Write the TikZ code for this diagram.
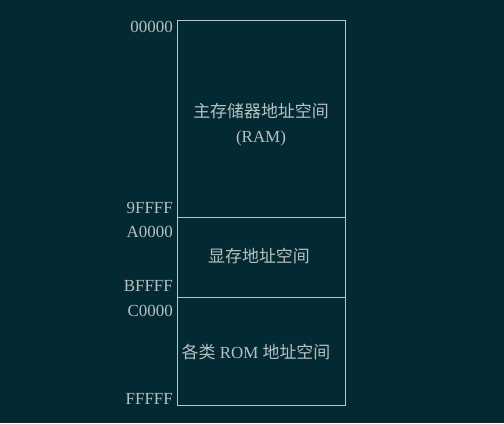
\documentclass[tikz,border=0pt]{standalone}
\usepackage{fontspec}
\setmainfont{Liberation Serif}
\newfontfamily\cjk{Noto Sans CJK SC}
\usepackage{xcolor}
\definecolor{bgteal}{RGB}{3,41,50}
\definecolor{edgegray}{RGB}{186,197,197}
\definecolor{textgray}{RGB}{182,194,194}
\begin{document}
\begin{tikzpicture}[x=1bp,y=-1bp,line cap=round,
  region/.style={draw=edgegray,line width=1.4bp,minimum width=168bp,inner sep=0pt,anchor=north west},
  addr/.style={anchor=base east,text=textgray,inner sep=0pt,font=\fontsize{17}{19}\selectfont},
  label/.style={text=textgray,align=center,inner sep=0pt,font=\fontsize{17}{25}\selectfont}]
\fill[bgteal] (0,0) rectangle (504,423);
\useasboundingbox (0,0) rectangle (504,423);
\node[region,minimum height=197bp] (main) at (177,20) {};
\node[region,minimum height=80bp] (vram) at (177,217) {};
\node[region,minimum height=108bp] (rom) at (177,297) {};
\node[label] (maintext) at (261,124.5) {{\cjk 主存储器地址空间}\\(RAM)};
\node[label] (vramtext) at (259,256) {\cjk 显存地址空间};
\node[label] (romtext) at (256,352) {{\cjk 各类} ROM {\cjk 地址空间}};
\node[addr] (a00000) at (173,32.5) {00000};
\node[addr] (a9ffff) at (173,213) {9FFFF};
\node[addr] (aa0000) at (173,237) {A0000};
\node[addr] (abffff) at (173,291) {BFFFF};
\node[addr] (ac0000) at (173,316) {C0000};
\node[addr] (affff) at (173,404.5) {FFFFF};
\end{tikzpicture}
\end{document}
